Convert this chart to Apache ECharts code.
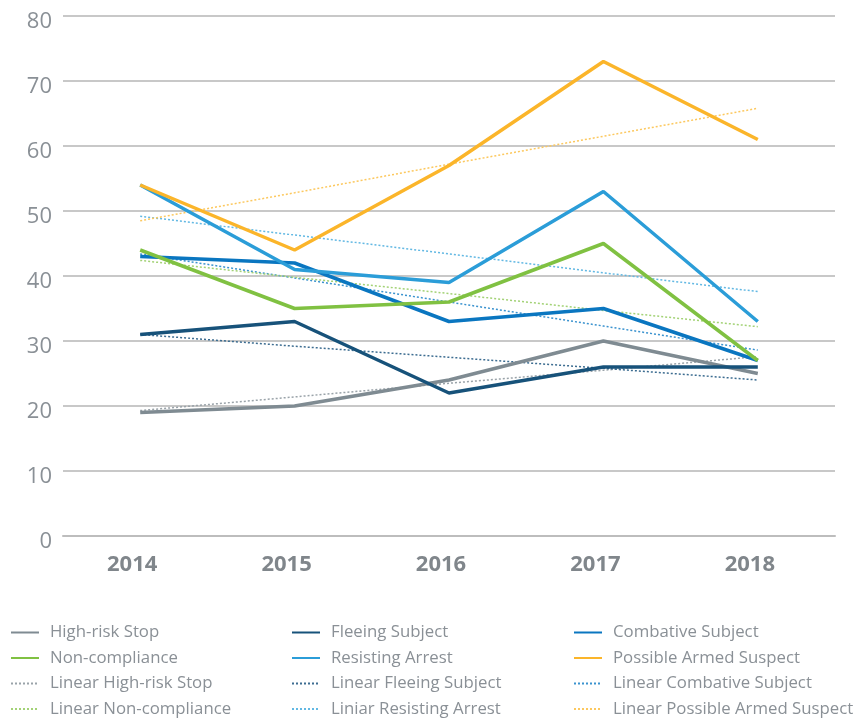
<!DOCTYPE html>
<html><head><meta charset="utf-8">
<script src="https://cdn.jsdelivr.net/npm/echarts@6/dist/echarts.min.js"></script>
<style>html,body{margin:0;padding:0;background:#fff}#c{width:854px;height:719px}</style>
</head><body><div id="c"></div>
<script>
const years = ['2014','2015','2016','2017','2018'];
const yTicks = [0,10,20,30,40,50,60,70,80];
const highRisk = [19,20,24,30,25];
const fleeing = [31,33,22,26,26];
const combative = [43,42,33,35,27];
const nonCompliance = [44,35,36,45,27];
const resisting = [54,41,39,53,33];
const armed = [54,44,57,73,61];
// trend lines
const linHighRisk = [19.3,21.4,23.5,25.5,27.6];
const linFleeing = [31.0,29.2,27.5,25.8,24.0];
const linCombative = [43.4,39.7,36.0,32.3,28.6];
const linNonCompliance = [42.4,39.8,37.3,34.7,32.2];
const linResisting = [49.2,46.3,43.4,40.5,37.6];
const linArmed = [48.5,52.8,57.2,61.5,65.8];

const C = {hr:'#7f8b92', fl:'#17527a', co:'#0a76c0', nc:'#80c142', ra:'#2b9dd8', ar:'#fbb52a'};
const L = {hr:'#9aa3a9', fl:'#3d6d91', co:'#3b93cf', nc:'#a3d276', ra:'#62b8e3', ar:'#fcc85e'};

function solid(name, data, color){
  return {name, type:'line', data, symbol:'none', z:3,
    lineStyle:{color, width:3.5}, itemStyle:{color}};
}
function dotted(name, data, color){
  return {name, type:'line', data, symbol:'none', z:2,
    lineStyle:{color, width:1.5, type:[2,2]}, itemStyle:{color}};
}
const series = [
  solid('High-risk Stop', highRisk, C.hr),
  solid('Fleeing Subject', fleeing, C.fl),
  solid('Combative Subject', combative, C.co),
  solid('Non-compliance', nonCompliance, C.nc),
  solid('Resisting Arrest', resisting, C.ra),
  solid('Possible Armed Suspect', armed, C.ar),
  dotted('Linear High-risk Stop', linHighRisk, L.hr),
  dotted('Linear Fleeing Subject', linFleeing, L.fl),
  dotted('Linear Combative Subject', linCombative, L.co),
  dotted('Linear Non-compliance', linNonCompliance, L.nc),
  dotted('Liniar Resisting Arrest', linResisting, L.ra),
  dotted('Linear Possible Armed Suspect', linArmed, L.ar)
];
const font = '"Open Sans", "Noto Sans", sans-serif';
function legend(left, names){
  return {orient:'vertical', left, top:624, padding:0, itemWidth:28, itemHeight:17, itemGap:8.5,
    data:names, selectedMode:false, itemStyle:{opacity:0},
    textStyle:{color:'#8a9096', fontSize:16.8, fontFamily:font, lineHeight:17, padding:[0,0,0,6]}};
}
const chart = echarts.init(document.getElementById('c'));
chart.setOption({
  animation:false,
  grid:{left:63, right:19, top:16, bottom:183},
  xAxis:{type:'category', data:years, boundaryGap:true,
    axisLine:{lineStyle:{color:'#bdbdbd', width:2}}, axisTick:{show:false},
    axisLabel:{color:'#80868b', fontSize:22, fontWeight:'bold', fontFamily:font, margin:18, padding:[0,16,0,0]}},
  yAxis:{type:'value', min:yTicks[0], max:yTicks[yTicks.length-1], interval:10,
    axisLine:{show:false}, axisTick:{show:false},
    splitLine:{lineStyle:{color:'#c8c8c8', width:2}},
    axisLabel:{color:'#8a9096', fontSize:22, fontFamily:font, margin:11, verticalAlign:'top', lineHeight:12}},
  legend:[
    legend(10, ['High-risk Stop','Non-compliance','Linear High-risk Stop','Linear Non-compliance']),
    legend(291, ['Fleeing Subject','Resisting Arrest','Linear Fleeing Subject','Liniar Resisting Arrest']),
    legend(573, ['Combative Subject','Possible Armed Suspect','Linear Combative Subject','Linear Possible Armed Suspect'])
  ],
  series
});
</script></body></html>
